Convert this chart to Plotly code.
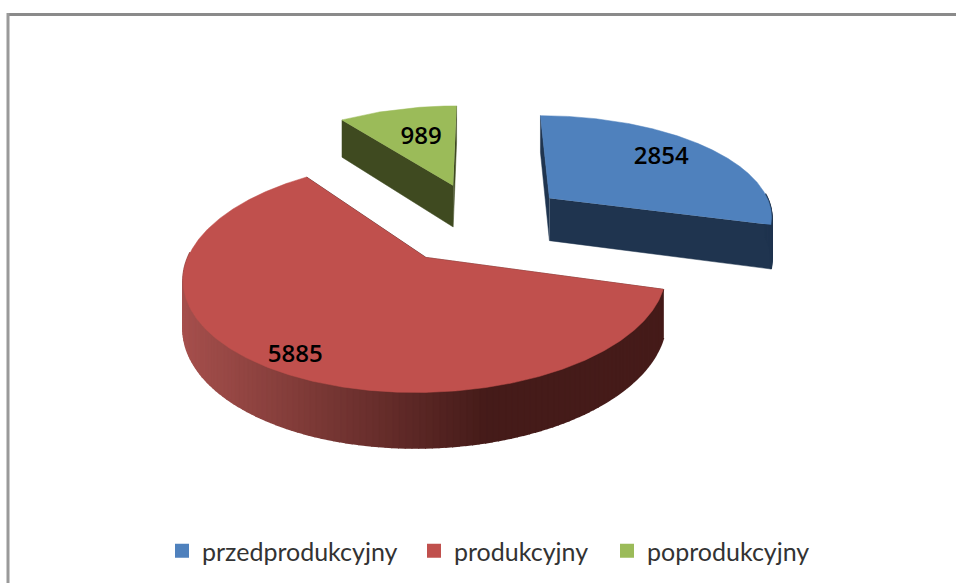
import numpy as np
import plotly.graph_objects as go

categories = ["przedprodukcyjny", "produkcyjny", "poprodukcyjny"]
values = [2854, 5885, 989]
top_colors = ["#4f81bd", "#c0504d", "#9bbb59"]
wall_colors = ["#1f344f", "#451b19", "#3f4a20"]
label_radius = [0.57, 0.93, 0.42]
label_nudge = [(21, -9), (20, 0), (-7, -13)]
legend_px = [162, 414, 607]
draw_order = [2, 0, 1]

CX, CY = 480, 222
A, B = 226, 102
F = 6.5
H = 44
EXPLODE = 0.40


def project(x, y, z=0.0):
    k = F / (F + np.asarray(y, float))
    return CX + A * np.asarray(x, float) * k, CY - B * np.asarray(y, float) * k + H * z * k


def mix(c1, c2, t):
    a = [int(c1[i:i + 2], 16) for i in (1, 3, 5)]
    b = [int(c2[i:i + 2], 16) for i in (1, 3, 5)]
    return "rgb(%d,%d,%d)" % tuple(round(p + (q - p) * t) for p, q in zip(a, b))


fig = go.Figure()


def poly(xs, ys, color, lw=0.5):
    fig.add_trace(go.Scatter(x=list(xs), y=list(ys), mode="lines", fill="toself", fillcolor=color,
                             line=dict(color=color, width=lw), showlegend=False, hoverinfo="skip"))


total = sum(values)
starts = np.cumsum([0] + values[:-1]) / total * 2 * np.pi
spans = np.array(values) / total * 2 * np.pi
label_x, label_y = [], []

for i in draw_order:
    t0, dt = starts[i], spans[i]
    mid = t0 + dt / 2
    ox, oy = EXPLODE * np.sin(mid), EXPLODE * np.cos(mid)
    th = np.linspace(t0, t0 + dt, 480)
    rx, ry = ox + np.sin(th), oy + np.cos(th)

    for t in (t0, t0 + dt):
        ex, ey = ox + np.sin(t), oy + np.cos(t)
        x1, y1 = project([ox, ex, ex, ox], [oy, ey, ey, oy], np.array([0, 0, 1, 1]))
        poly(x1, y1, wall_colors[i])

    front = np.where(np.cos(th) < 0.05)[0]
    if len(front) > 1:
        idx = front[::3]
        if idx[-1] != front[-1]:
            idx = np.append(idx, front[-1])
        for a, b in zip(idx[:-1], idx[1:]):
            seg = np.arange(a, b + 1)
            xt, yt = project(rx[seg], ry[seg], 0)
            xb, yb = project(rx[seg][::-1], ry[seg][::-1], 1)
            xm = float(np.mean(xt))
            tone = min(max((xm - 185) / 300, 0), 1)
            col = mix("#a54f4c", wall_colors[i], tone) if i == 1 else wall_colors[i]
            poly(np.r_[xt, xb], np.r_[yt, yb], col, lw=2)

    x2, y2 = project(np.r_[ox, rx], np.r_[oy, ry])
    poly(x2, y2, top_colors[i])

    lx, ly = project(ox + label_radius[i] * np.sin(mid), oy + label_radius[i] * np.cos(mid))
    label_x.append(float(lx) + label_nudge[i][0])
    label_y.append(float(ly) + label_nudge[i][1])

fig.add_trace(go.Scatter(x=label_x, y=label_y, mode="text", text=[str(values[i]) for i in draw_order],
                         textposition="middle center", showlegend=False, hoverinfo="skip",
                         textfont=dict(family="Open Sans", size=24, color="#000000", weight=600)))

legend_names = ["legend", "legend2", "legend3"]
for name, color, lg in zip(categories, top_colors, legend_names):
    fig.add_trace(go.Scatter(x=[None], y=[None], mode="markers", name=name, legend=lg,
                             marker=dict(symbol="square", size=14, color=color)))

legend_layouts = {
    lg: dict(orientation="h", x=px / 956, y=1 - 551 / 583, xanchor="left", yanchor="middle",
             font=dict(family="Lato", size=25, color="#333333"), itemwidth=30,
             bgcolor="rgba(0,0,0,0)")
    for lg, px in zip(legend_names, legend_px)
}

fig.update_layout(
    width=956, height=583, margin=dict(l=0, r=0, t=0, b=0),
    paper_bgcolor="white", plot_bgcolor="white",
    xaxis=dict(range=[0, 956], visible=False, fixedrange=True),
    yaxis=dict(range=[583, 0], visible=False, fixedrange=True),
    shapes=[
        dict(type="line", xref="x", yref="y", x0=8, x1=956, y0=14.5, y1=14.5, line=dict(color="#8a8a8a", width=3)),
        dict(type="line", xref="x", yref="y", x0=8, x1=8, y0=13, y1=583, line=dict(color="#9a9a9a", width=3)),
    ],
    **legend_layouts,
)
fig.write_html("out.html", config={"displayModeBar": False},
               post_script="document.body.style.margin='0';document.documentElement.style.overflow='hidden';")
